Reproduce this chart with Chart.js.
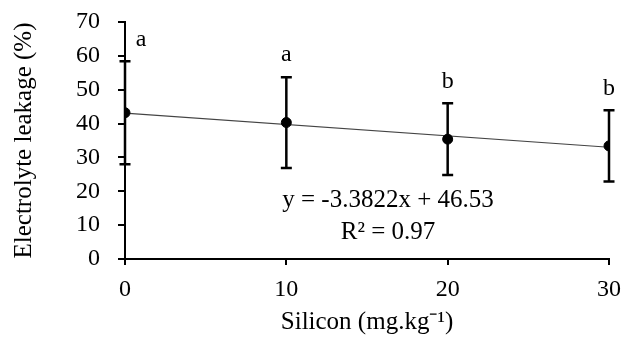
<!DOCTYPE html>
<html>
<head>
<meta charset="utf-8">
<script src="https://cdn.jsdelivr.net/npm/chart.js@4/dist/chart.umd.min.js"></script>
<style>
  html, body { margin: 0; padding: 0; background: #fff; }
  #wrap { width: 624px; height: 338px; }
</style>
</head>
<body>
<div id="wrap"><canvas id="leak-chart"></canvas></div>
<script>
// Electrolyte leakage vs silicon dose
const silicon = [0, 10, 20, 30];
const leakage = [43.2, 40.3, 35.4, 33.4];
const leakageSd = [15.2, 13.4, 10.6, 10.5];
const letters = ['a', 'a', 'b', 'b'];

// linear fit, endpoints
const trendX = [0, 30];
const trendY = [43.1, 33.0];
const equationLines = ['y = -3.3822x + 46.53', 'R\u00B2 = 0.97'];

const FONT = '"Liberation Serif", "Times New Roman", serif';

// error bars, significance letters and the equation text
const extrasPlugin = {
    id: 'extras',
    afterDatasetsDraw(chart) {
        const ctx = chart.ctx;
        const xs = chart.scales.x;
        const ys = chart.scales.y;
        ctx.save();
        ctx.strokeStyle = '#000';
        ctx.lineWidth = 2.5;
        silicon.forEach((s, i) => {
            const px = xs.getPixelForValue(s);
            const top = ys.getPixelForValue(leakage[i] + leakageSd[i]);
            const bot = ys.getPixelForValue(leakage[i] - leakageSd[i]);
            ctx.beginPath();
            ctx.moveTo(px, top); ctx.lineTo(px, bot);
            ctx.moveTo(px - 5.5, top); ctx.lineTo(px + 5.5, top);
            ctx.moveTo(px - 5.5, bot); ctx.lineTo(px + 5.5, bot);
            ctx.stroke();

            // letter above the bar (first one nudged off the axis)
            ctx.fillStyle = '#000';
            ctx.font = '24px ' + FONT;
            ctx.textAlign = 'center';
            ctx.textBaseline = 'middle';
            const dx = i === 0 ? 16 : 0;
            ctx.fillText(letters[i], px + dx, top - 22);
        });

        ctx.font = '25px ' + FONT;
        ctx.textAlign = 'center';
        ctx.textBaseline = 'middle';
        const ex = xs.getPixelForValue(16.3);
        const ey = ys.getPixelForValue(17.4);
        ctx.fillText(equationLines[0], ex, ey);
        ctx.fillText(equationLines[1], ex, ey + 32);
        ctx.restore();
    }
};

document.addEventListener('DOMContentLoaded', () => {
    const ctx = document.getElementById('leak-chart').getContext('2d');

    new Chart(ctx, {
        type: 'scatter',
        data: {
            datasets: [
                {
                    label: 'Electrolyte leakage',
                    data: silicon.map((s, i) => ({ x: s, y: leakage[i] })),
                    backgroundColor: '#000',
                    borderColor: '#000',
                    pointRadius: 5,
                    showLine: false,
                    order: 1
                },
                {
                    label: 'Linear fit',
                    data: trendX.map((s, i) => ({ x: s, y: trendY[i] })),
                    borderColor: '#444',
                    borderWidth: 1.2,
                    pointRadius: 0,
                    showLine: true,
                    fill: false,
                    order: 2
                }
            ]
        },
        options: {
            responsive: true,
            maintainAspectRatio: false,
            animation: false,
            layout: { padding: { top: 22, right: 15, left: 0, bottom: 0 } },
            plugins: {
                legend: { display: false },
                tooltip: { enabled: false }
            },
            scales: {
                x: {
                    type: 'linear',
                    min: 0,
                    max: 30,
                    afterFit: s => { s.height = 79; s.paddingLeft = 0; s.paddingRight = 0; },
                    border: { display: true, color: '#000', width: 2 },
                    grid: { drawOnChartArea: false, drawTicks: true, tickLength: 6, color: '#000', lineWidth: 2 },
                    ticks: {
                        stepSize: 10,
                        color: '#000',
                        padding: 10,
                        font: { family: FONT, size: 24 }
                    },
                    title: {
                        display: true,
                        text: 'Silicon (mg.kg\u207B\u00B9)',
                        color: '#000',
                        font: { family: FONT, size: 25 },
                        padding: { top: 0, bottom: 1 }
                    }
                },
                y: {
                    min: 0,
                    max: 70,
                    afterFit: s => { s.width = 125; s.paddingTop = 0; s.paddingBottom = 0; },
                    border: { display: true, color: '#000', width: 2 },
                    grid: { drawOnChartArea: false, drawTicks: true, tickLength: 7, color: '#000', lineWidth: 2 },
                    ticks: {
                        stepSize: 10,
                        color: '#000',
                        padding: 18,
                        font: { family: FONT, size: 24 }
                    },
                    title: {
                        display: true,
                        text: 'Electrolyte leakage (%)',
                        color: '#000',
                        font: { family: FONT, size: 25 },
                        padding: { top: 9, bottom: 0 }
                    }
                }
            }
        },
        plugins: [extrasPlugin]
    });
});
</script>
</body>
</html>
